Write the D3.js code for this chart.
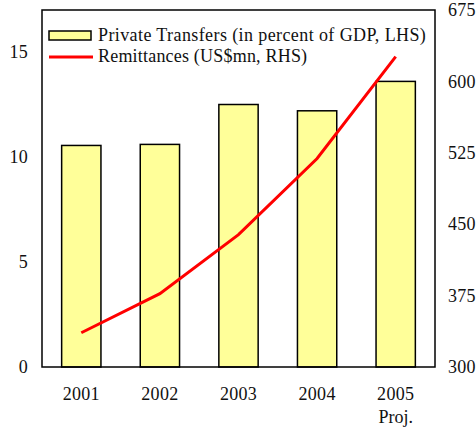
<!DOCTYPE html>
<html><head><meta charset="utf-8">
<script src="https://cdn.jsdelivr.net/npm/d3@7"></script>
<style>body{margin:0;background:#fff}text{font-family:"Liberation Serif","Times New Roman",serif !important;fill:#111}</style>
</head><body><svg id="c" width="476" height="429"></svg>
<script>
const years = ["2001","2002","2003","2004","2005"];
const transfers = [10.55, 10.6, 12.5, 12.2, 13.6];
const remittances = [336, 377, 439, 519, 626];
const leftTicks = [0, 5, 10, 15];
const rightTicks = [300, 375, 450, 525, 600, 675];

const FONT = "Liberation Serif, Times New Roman, serif";
const FS = 18;
const svg = d3.select("#c");
const L = 42, R = 435, T = 10, B = 367;
const x = d3.scaleBand().domain(years).range([L, R]).paddingInner(0.5).paddingOuter(0.25);
const yL = d3.scaleLinear().domain([0, 17]).range([B, T]);
const yR = d3.scaleLinear().domain([300, 675]).range([B, T]);

svg.selectAll("rect.bar").data(years).enter().append("rect")
  .attr("x", d => x(d)).attr("width", x.bandwidth())
  .attr("y", (d,i) => yL(transfers[i])).attr("height", (d,i) => B - yL(transfers[i]))
  .attr("fill", "#FFFF99").attr("stroke", "#000").attr("stroke-width", 1.5);

const line = d3.line().x((d,i) => x(years[i]) + x.bandwidth()/2).y(d => yR(d));
svg.append("path").datum(remittances).attr("d", line)
  .attr("fill", "none").attr("stroke", "#FF0000").attr("stroke-width", 3);

svg.append("rect").attr("x", L).attr("y", T).attr("width", R-L).attr("height", B-T)
  .attr("fill", "none").attr("stroke", "#000").attr("stroke-width", 1.5);

const axL = d3.axisLeft(yL).tickValues(leftTicks).tickSize(0).tickPadding(14);
const gL = svg.append("g").attr("transform", `translate(${L},0)`).call(axL);
const axR = d3.axisRight(yR).tickValues(rightTicks).tickSize(0).tickPadding(13);
const gR = svg.append("g").attr("transform", `translate(${R},0)`).call(axR);
const axB = d3.axisBottom(x).tickSize(0).tickPadding(20);
const gB = svg.append("g").attr("transform", `translate(0,${B})`).call(axB);
[gL,gR,gB].forEach(g => {
  g.attr("font-family", FONT).attr("font-size", FS);
  g.select(".domain").remove();
  g.selectAll("text").attr("font-size", FS).attr("font-family", FONT).attr("fill", "#111").attr("letter-spacing", 0.3);
});

svg.append("text").attr("x", x("2005") + x.bandwidth()/2).attr("y", 423)
  .attr("text-anchor", "middle").attr("font-size", FS).attr("font-family", FONT).text("Proj.");

// legend
svg.append("rect").attr("x", 49).attr("y", 31).attr("width", 42).attr("height", 9)
  .attr("fill", "#FFFF99").attr("stroke", "#000").attr("stroke-width", 1.5);
svg.append("text").attr("x", 98).attr("y", 41).attr("font-size", FS).attr("font-family", FONT)
  .attr("letter-spacing", 0.4).text("Private Transfers (in percent of GDP, LHS)");
svg.append("line").attr("x1", 49).attr("x2", 93).attr("y1", 57).attr("y2", 57)
  .attr("stroke", "#FF0000").attr("stroke-width", 3);
svg.append("text").attr("x", 98).attr("y", 62).attr("font-size", FS).attr("font-family", FONT)
  .attr("letter-spacing", 0.2).text("Remittances (US$mn, RHS)");
</script></body></html>
